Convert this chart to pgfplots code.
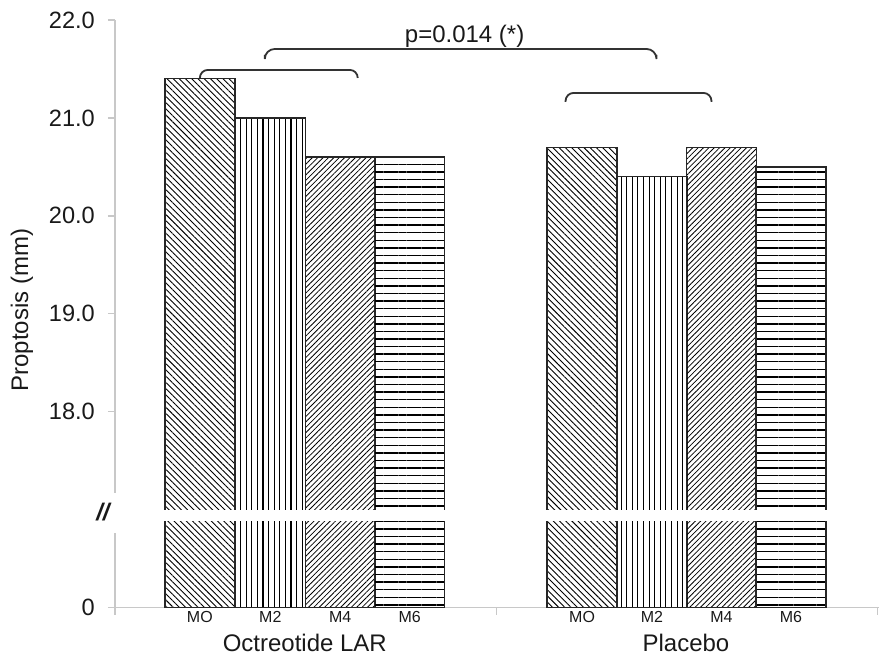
\documentclass[border=0pt]{standalone}
\usepackage{pgfplots}
\pgfplotsset{compat=1.18}
\usepackage{fontspec}
\setmainfont{Liberation Sans}
\usetikzlibrary{patterns.meta,calc}
\definecolor{axgray}{RGB}{200,200,200}
\definecolor{txt}{RGB}{25,25,25}
\begin{document}
\begin{tikzpicture}
\begin{axis}[name=ax, scale only axis, width=382.5pt, height=294pt,
 xmin=115, xmax=880, ymin=16, ymax=22,
 axis x line=bottom, axis y line=left,
 axis line style={draw=axgray, line width=0.7pt, -},
 tick style={draw=axgray, line width=0.7pt},
 tick align=outside, major tick length=3.5pt,
 xtick={115,497,878}, xticklabels={},
 ytick={16,18,19,20,21,22}, yticklabels={0,18.0,19.0,20.0,21.0,22.0},
 yticklabel style={font=\fontsize{11.8}{14}\selectfont, text=txt, xshift=-3pt},
 ylabel={Proptosis (mm)},
 ylabel style={font=\fontsize{12}{14}\selectfont, text=txt, at={(rel axis cs:0,0.506)}, anchor=center, yshift=46.5pt},
 clip mode=individual,
]
% M0
\addplot[ybar, bar width=70, bar shift=0pt, draw=black!85, line width=0.7pt, pattern={Lines[angle=-45,distance=2.2pt,line width=0.45pt]}] coordinates {(200,21.4) (582.5,20.7)};
% M2
\addplot[ybar, bar width=70, bar shift=0pt, draw=black!85, line width=0.7pt, pattern={Lines[angle=90,distance=2.8pt,line width=0.55pt]}] coordinates {(270.5,21.0) (652.5,20.4)};
% M4
\addplot[ybar, bar width=70, bar shift=0pt, draw=black!85, line width=0.7pt, pattern={Lines[angle=45,distance=1.9pt,line width=0.4pt]}] coordinates {(340.5,20.6) (722,20.7)};
% M6
\addplot[ybar, bar width=70, bar shift=0pt, draw=black!85, line width=0.7pt, pattern={Lines[angle=0,distance=3.8pt,line width=0.7pt]}] coordinates {(410,20.6) (791.5,20.5)};

% category labels
\foreach \xx/\lab in {200/MO,270.5/M2,340.5/M4,410/M6,582.5/MO,652.5/M2,722/M4,791.5/M6}{
  \edef\temp{\noexpand\node[font=\noexpand\fontsize{8}{9}\noexpand\selectfont, text=txt, yshift=-4.8pt] at (axis cs:\xx,16) {\lab};}
  \temp
}
\node[font=\fontsize{12}{14}\selectfont, text=txt, yshift=-17.5pt] at (axis cs:305,16) {Octreotide LAR};
\node[font=\fontsize{12}{14}\selectfont, text=txt, yshift=-17.5pt] at (axis cs:686.5,16) {Placebo};

% brackets
\draw[black!80, line width=0.9pt, rounded corners=4pt] (axis cs:200,21.408) -- (axis cs:200,21.49) -- (axis cs:358,21.49) -- (axis cs:358,21.408);
\draw[black!80, line width=0.9pt, rounded corners=4pt] (axis cs:566,21.163) -- (axis cs:566,21.255) -- (axis cs:712,21.255) -- (axis cs:712,21.163);
\draw[black!80, line width=0.9pt, rounded corners=5pt] (axis cs:265,21.643) -- (axis cs:265,21.704) -- (axis cs:657,21.704) -- (axis cs:657,21.643);
\node[font=\fontsize{12}{14}\selectfont, text=txt] at (axis cs:465,21.83) {p=0.014 (*)};

% break coordinates
\coordinate (b1) at (axis cs:158,16.888);
\coordinate (b2) at (axis cs:447,17.0);
\coordinate (b3) at (axis cs:545,16.888);
\coordinate (b4) at (axis cs:832,17.0);
\coordinate (g1) at (axis cs:110,16.765);
\coordinate (g2) at (axis cs:120,17.173);
\coordinate (sl) at (axis cs:103,16.97);
\end{axis}
\fill[white] (b1) rectangle (b2);
\fill[white] (b3) rectangle (b4);
\fill[white] (g1) rectangle (g2);
\node[font=\fontsize{12}{14}\selectfont\bfseries\itshape, text=txt] at (sl) {//};
\path[use as bounding box] ($(ax.south west)+(-57.5pt,-24pt)$) rectangle ($(ax.north east)+(2pt,10pt)$);
\end{tikzpicture}
\end{document}
